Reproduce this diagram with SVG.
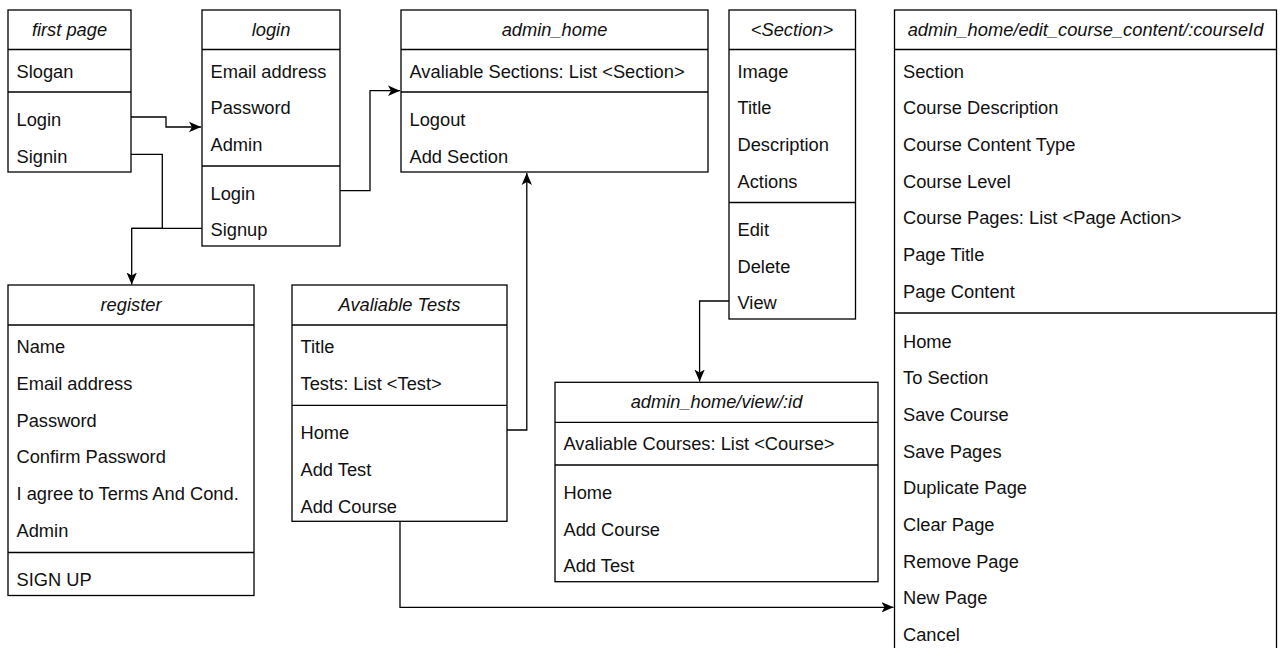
<svg xmlns="http://www.w3.org/2000/svg" width="1280" height="648" viewBox="0 0 1280 648">
  <style>
    .box { fill: #fff; stroke: #000; stroke-width: 1.3; }
    .sep { stroke: #000; stroke-width: 1.3; }
    .hd { font-family: "Liberation Sans", Arial, sans-serif; font-size: 18.3px; font-style: italic; text-anchor: middle; fill: #111; }
    .it { font-family: "Liberation Sans", Arial, sans-serif; font-size: 18.3px; fill: #111; }
    .edge { fill: none; stroke: #000; stroke-width: 1.3; }
  </style>
  <defs>
    <marker id="arrow" markerUnits="userSpaceOnUse" markerWidth="14" markerHeight="12" refX="12" refY="6" orient="auto">
      <path d="M0,0.8 L12,6 L0,11.2 L3,6 Z" fill="#000"/>
    </marker>
  </defs>
  <rect width="1280" height="648" fill="#fff"/>

  <!-- connectors -->
  <g id="connectors">
    <path class="edge" d="M131,117 H166 V127 H201" marker-end="url(#arrow)"/>
    <path class="edge" d="M131,154.3 H162.3 V228.3 H131.7"/>
    <path class="edge" d="M202,228.3 H131.7 V284.5" marker-end="url(#arrow)"/>
    <path class="edge" d="M340,190.7 H370 V90.7 H400" marker-end="url(#arrow)"/>
    <path class="edge" d="M507,430 H526.8 V173" marker-end="url(#arrow)"/>
    <path class="edge" d="M729,301 H699.6 V381.5" marker-end="url(#arrow)"/>
    <path class="edge" d="M400,521.3 V607.3 H893.5" marker-end="url(#arrow)"/>
  </g>

  <!-- first page -->
  <g id="first-page">
    <rect class="box" x="8" y="10" width="123" height="162"/>
    <line class="sep" x1="8" y1="49.5" x2="131" y2="49.5"/>
    <line class="sep" x1="8" y1="92" x2="131" y2="92"/>
    <text class="hd" x="69.5" y="36">first page</text>
    <text class="it" x="16.5" y="77.5">Slogan</text>
    <text class="it" x="16.5" y="125.8">Login</text>
    <text class="it" x="16.5" y="162.5">Signin</text>
  </g>

  <!-- login -->
  <g id="login">
    <rect class="box" x="202" y="10" width="138" height="236"/>
    <line class="sep" x1="202" y1="49.5" x2="340" y2="49.5"/>
    <line class="sep" x1="202" y1="166" x2="340" y2="166"/>
    <text class="hd" x="271" y="36">login</text>
    <text class="it" x="210.5" y="77.5">Email address</text>
    <text class="it" x="210.5" y="114.2">Password</text>
    <text class="it" x="210.5" y="150.9">Admin</text>
    <text class="it" x="210.5" y="199.5">Login</text>
    <text class="it" x="210.5" y="236.2">Signup</text>
  </g>

  <!-- admin_home -->
  <g id="admin-home">
    <rect class="box" x="401" y="10" width="307" height="162"/>
    <line class="sep" x1="401" y1="49.5" x2="708" y2="49.5"/>
    <line class="sep" x1="401" y1="92" x2="708" y2="92"/>
    <text class="hd" x="554.5" y="36">admin_home</text>
    <text class="it" x="409.5" y="77.5">Avaliable Sections: List &lt;Section&gt;</text>
    <text class="it" x="409.5" y="125.8">Logout</text>
    <text class="it" x="409.5" y="162.5">Add Section</text>
  </g>

  <!-- <Section> -->
  <g id="section">
    <rect class="box" x="729" y="10" width="126.5" height="309"/>
    <line class="sep" x1="729" y1="49.5" x2="855.5" y2="49.5"/>
    <line class="sep" x1="729" y1="202.5" x2="855.5" y2="202.5"/>
    <text class="hd" x="792" y="36">&lt;Section&gt;</text>
    <text class="it" x="737.5" y="77.5">Image</text>
    <text class="it" x="737.5" y="114.2">Title</text>
    <text class="it" x="737.5" y="150.9">Description</text>
    <text class="it" x="737.5" y="187.6">Actions</text>
    <text class="it" x="737.5" y="236">Edit</text>
    <text class="it" x="737.5" y="272.7">Delete</text>
    <text class="it" x="737.5" y="309.4">View</text>
  </g>

  <!-- admin_home/edit_course_content/:courseId -->
  <g id="edit-course-content">
    <rect class="box" x="894.5" y="10" width="382" height="642"/>
    <line class="sep" x1="894.5" y1="49.5" x2="1276.5" y2="49.5"/>
    <line class="sep" x1="894.5" y1="313" x2="1276.5" y2="313"/>
    <text class="hd" x="1085.5" y="36">admin_home/edit_course_content/:courseId</text>
    <text class="it" x="903" y="77.5">Section</text>
    <text class="it" x="903" y="114.2">Course Description</text>
    <text class="it" x="903" y="150.9">Course Content Type</text>
    <text class="it" x="903" y="187.6">Course Level</text>
    <text class="it" x="903" y="224.3">Course Pages: List &lt;Page Action&gt;</text>
    <text class="it" x="903" y="261">Page Title</text>
    <text class="it" x="903" y="297.7">Page Content</text>
    <text class="it" x="903" y="347.5">Home</text>
    <text class="it" x="903" y="384.2">To Section</text>
    <text class="it" x="903" y="420.9">Save Course</text>
    <text class="it" x="903" y="457.6">Save Pages</text>
    <text class="it" x="903" y="494.3">Duplicate Page</text>
    <text class="it" x="903" y="531">Clear Page</text>
    <text class="it" x="903" y="567.7">Remove Page</text>
    <text class="it" x="903" y="604.4">New Page</text>
    <text class="it" x="903" y="641.1">Cancel</text>
  </g>

  <!-- register -->
  <g id="register">
    <rect class="box" x="8" y="285" width="246" height="310.5"/>
    <line class="sep" x1="8" y1="325" x2="254" y2="325"/>
    <line class="sep" x1="8" y1="552.5" x2="254" y2="552.5"/>
    <text class="hd" x="131" y="311">register</text>
    <text class="it" x="16.5" y="353.2">Name</text>
    <text class="it" x="16.5" y="389.9">Email address</text>
    <text class="it" x="16.5" y="426.6">Password</text>
    <text class="it" x="16.5" y="463.3">Confirm Password</text>
    <text class="it" x="16.5" y="500">I agree to Terms And Cond.</text>
    <text class="it" x="16.5" y="536.7">Admin</text>
    <text class="it" x="16.5" y="585.5">SIGN UP</text>
  </g>

  <!-- Avaliable Tests -->
  <g id="available-tests">
    <rect class="box" x="292" y="285" width="215" height="236.3"/>
    <line class="sep" x1="292" y1="325" x2="507" y2="325"/>
    <line class="sep" x1="292" y1="405.3" x2="507" y2="405.3"/>
    <text class="hd" x="399.5" y="311">Avaliable Tests</text>
    <text class="it" x="300.5" y="353.2">Title</text>
    <text class="it" x="300.5" y="389.9">Tests: List &lt;Test&gt;</text>
    <text class="it" x="300.5" y="439.2">Home</text>
    <text class="it" x="300.5" y="475.9">Add Test</text>
    <text class="it" x="300.5" y="512.6">Add Course</text>
  </g>

  <!-- admin_home/view/:id -->
  <g id="admin-home-view">
    <rect class="box" x="555" y="382.3" width="323" height="199.4"/>
    <line class="sep" x1="555" y1="422.3" x2="878" y2="422.3"/>
    <line class="sep" x1="555" y1="465" x2="878" y2="465"/>
    <text class="hd" x="716.5" y="408.3">admin_home/view/:id</text>
    <text class="it" x="563.5" y="449.8">Avaliable Courses: List &lt;Course&gt;</text>
    <text class="it" x="563.5" y="498.8">Home</text>
    <text class="it" x="563.5" y="535.5">Add Course</text>
    <text class="it" x="563.5" y="572.2">Add Test</text>
  </g>
</svg>
